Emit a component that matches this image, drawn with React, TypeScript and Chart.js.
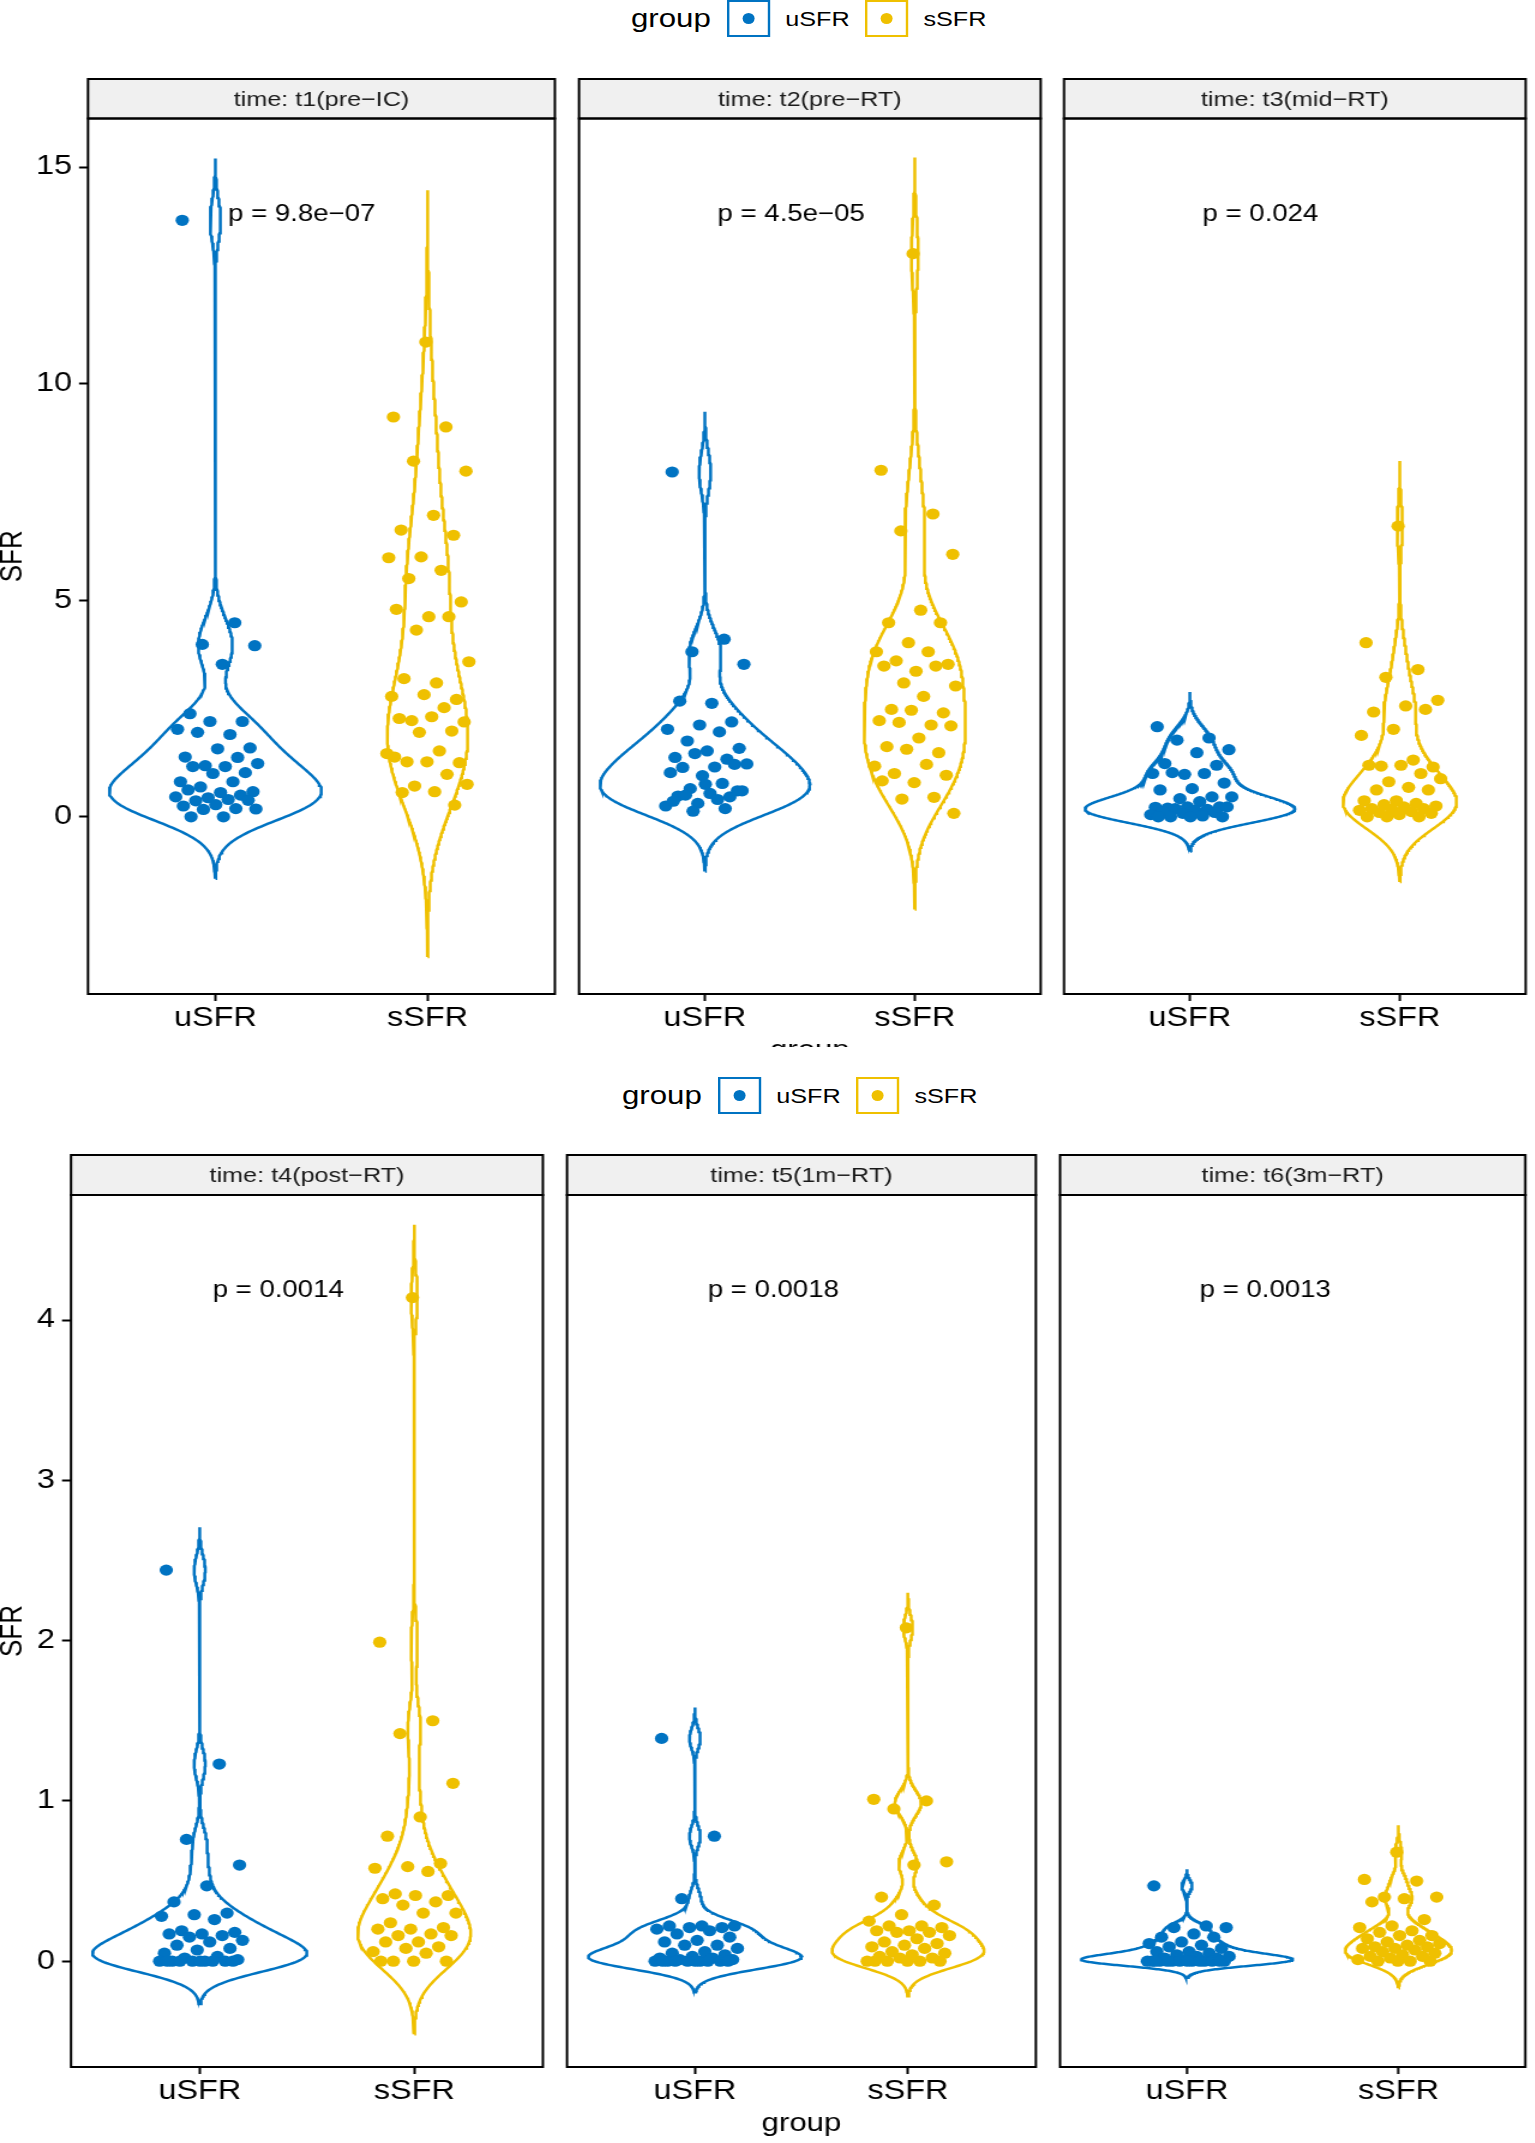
import { useEffect, useRef } from 'react'
import { Chart, registerables } from 'chart.js'

Chart.register(...registerables)

const FONT = '"Liberation Sans", Arial, Helvetica, sans-serif'
Chart.defaults.font.family = FONT
Chart.defaults.color = '#000'

// ---- data ----
const GROUPS = ['uSFR', 'sSFR']
const COLORS = ['#0073C2', '#EFC000']
const TIMES = [
  'time: t1(pre−IC)',
  'time: t2(pre−RT)',
  'time: t3(mid−RT)',
  'time: t4(post−RT)',
  'time: t5(1m−RT)',
  'time: t6(3m−RT)'
]
const P_VALUES = ['p = 9.8e−07', 'p = 4.5e−05', 'p = 0.024', 'p = 0.0014', 'p = 0.0018', 'p = 0.0013']
const TOP_TICKS = [0, 5, 10, 15]
const BOTTOM_TICKS = [0, 1, 2, 3, 4]

const T1_U = [13.77, 4.48, 3.98, 3.95, 3.52, 2.38, 2.2, 2.2, 2.02, 1.9, 1.95, 1.59, 1.57, 1.38, 1.37, 1.18, 1.23, 1.16, 1.16, 1.02, 1.0, 0.81, 0.81, 0.69, 0.58, 0.56, 0.62, 0.5, 0.44, 0.46, 0.4, 0.37, 0.38, 0.28, 0.25, 0.19, 0.17, 0.18, 0.0, 0.0]
const T1_S = [10.96, 9.23, 9.0, 8.21, 7.98, 6.96, 6.62, 6.5, 6.0, 5.98, 5.69, 5.5, 4.96, 4.62, 4.79, 4.62, 4.31, 3.58, 3.09, 3.19, 2.71, 2.82, 2.78, 2.52, 2.22, 2.19, 2.31, 2.27, 1.98, 1.95, 1.46, 1.52, 1.27, 1.25, 1.27, 1.38, 0.98, 0.71, 0.75, 0.58, 0.56, 0.27]
const T2_U = [7.96, 4.1, 3.81, 3.52, 2.62, 2.67, 2.19, 2.12, 2.02, 1.96, 1.75, 1.58, 1.52, 1.37, 1.33, 1.46, 1.22, 1.15, 1.14, 1.21, 0.95, 1.02, 0.77, 0.65, 0.6, 0.54, 0.48, 0.46, 0.31, 0.25, 0.4, 0.5, 0.6, 0.75, 0.36, 0.19, 0.13]
const T2_S = [13.0, 8.0, 6.99, 6.6, 6.06, 4.77, 4.48, 4.48, 4.02, 3.81, 3.81, 3.6, 3.52, 3.36, 3.48, 3.48, 3.09, 3.02, 2.78, 2.48, 2.4, 2.46, 2.22, 2.12, 2.18, 2.1, 1.82, 1.62, 1.48, 1.56, 1.17, 1.21, 1.0, 0.96, 0.79, 0.83, 0.45, 0.41, 0.08]
const T3_U = [2.08, 1.82, 1.77, 1.55, 1.48, 1.23, 1.19, 0.98, 1.0, 1.0, 1.02, 0.78, 0.65, 0.62, 0.46, 0.42, 0.46, 0.35, 0.2, 0.23, 0.23, 0.22, 0.17, 0.19, 0.23, 0.15, 0.12, 0.1, 0.08, 0.05, 0.02, 0.0, 0.0, 0.0, 0.0]
const T3_S = [6.71, 4.02, 3.4, 3.22, 2.69, 2.56, 2.42, 2.48, 2.02, 1.88, 1.31, 1.17, 1.15, 1.19, 1.19, 1.0, 0.81, 0.88, 0.68, 0.62, 0.62, 0.37, 0.37, 0.31, 0.28, 0.25, 0.23, 0.19, 0.19, 0.17, 0.15, 0.12, 0.1, 0.08, 0.05, 0.0, 0.0, 0.0]
const T4_U = [2.44, 1.23, 0.76, 0.6, 0.47, 0.37, 0.3, 0.29, 0.28, 0.26, 0.19, 0.18, 0.17, 0.17, 0.16, 0.15, 0.13, 0.12, 0.1, 0.08, 0.07, 0.05, 0.03, 0.02, 0.01, 0.0, 0.0, 0.0, 0.0, 0.0, 0.0, 0.0, 0.0, 0.0, 0.0]
const T4_S = [4.14, 1.99, 1.5, 1.42, 1.11, 0.9, 0.78, 0.61, 0.59, 0.58, 0.56, 0.42, 0.41, 0.41, 0.39, 0.37, 0.35, 0.3, 0.3, 0.24, 0.21, 0.2, 0.2, 0.17, 0.16, 0.16, 0.12, 0.12, 0.09, 0.08, 0.06, 0.05, 0.0, 0.0, 0.0, 0.0]
const T5_U = [1.39, 0.78, 0.39, 0.22, 0.22, 0.22, 0.21, 0.21, 0.2, 0.19, 0.17, 0.15, 0.13, 0.12, 0.1, 0.1, 0.08, 0.06, 0.05, 0.04, 0.03, 0.02, 0.02, 0.01, 0.01, 0.0, 0.0, 0.0, 0.0, 0.0, 0.0, 0.0, 0.0, 0.0, 0.0]
const T5_S = [2.08, 1.01, 1.0, 0.95, 0.62, 0.6, 0.4, 0.35, 0.29, 0.25, 0.22, 0.22, 0.21, 0.19, 0.19, 0.18, 0.18, 0.16, 0.14, 0.12, 0.11, 0.1, 0.09, 0.08, 0.06, 0.05, 0.04, 0.03, 0.02, 0.02, 0.0, 0.0, 0.0, 0.0, 0.0, 0.0]
const T6_U = [0.47, 0.22, 0.21, 0.21, 0.17, 0.15, 0.15, 0.12, 0.11, 0.1, 0.09, 0.08, 0.06, 0.06, 0.05, 0.04, 0.03, 0.03, 0.02, 0.02, 0.01, 0.0, 0.0, 0.0, 0.0, 0.0, 0.0, 0.0, 0.0, 0.0, 0.0, 0.0, 0.0, 0.0, 0.0]
const T6_S = [0.68, 0.51, 0.5, 0.4, 0.4, 0.39, 0.37, 0.26, 0.22, 0.21, 0.19, 0.18, 0.16, 0.16, 0.14, 0.13, 0.12, 0.11, 0.1, 0.09, 0.09, 0.08, 0.08, 0.07, 0.06, 0.05, 0.04, 0.03, 0.03, 0.02, 0.01, 0.0, 0.0, 0.0, 0.0]

const USFR = [T1_U, T2_U, T3_U, T4_U, T5_U, T6_U]
const SSFR = [T1_S, T2_S, T3_S, T4_S, T5_S, T6_S]

// ---- layout (page pixels) ----
const SX = 1.2 // the source figure is stretched horizontally
const AXIS_H = 72
const PAD = 4

type PanelSpec = {
  index: number
  left: number
  right: number
  stripTop: number
  top: number
  bottom: number
  first: boolean
  middle: boolean
  yMin: number
  yMax: number
  ticks: number[]
}

const ROWS = [
  { stripTop: 79, top: 118.5, bottom: 994, yMin: -4.09, yMax: 16.12, ticks: TOP_TICKS, xs: [[88, 557.5], [574.5, 1043], [1060, 1528]] },
  { stripTop: 1155, top: 1195, bottom: 2067, yMin: -0.66, yMax: 4.78, ticks: BOTTOM_TICKS, xs: [[71, 546], [563, 1038.5], [1056, 1528]] }
]

const PANELS: PanelSpec[] = ROWS.flatMap((row, r) =>
  row.xs.map(([left, right], c) => ({
    index: r * 3 + c,
    left,
    right,
    stripTop: row.stripTop,
    top: row.top,
    bottom: row.bottom,
    first: c === 0,
    middle: c === 1,
    yMin: row.yMin,
    yMax: row.yMax,
    ticks: row.ticks
  }))
)

// ---- violin density (gaussian kernel, bw.nrd0, untrimmed like ggplot) ----
function quantile(sorted: number[], p: number) {
  const h = (sorted.length - 1) * p
  const lo = Math.floor(h)
  const hi = Math.min(lo + 1, sorted.length - 1)
  return sorted[lo] + (h - lo) * (sorted[hi] - sorted[lo])
}

function bwNrd0(v: number[]) {
  const n = v.length
  const mean = v.reduce((a, b) => a + b, 0) / n
  const sd = Math.sqrt(v.reduce((a, b) => a + (b - mean) ** 2, 0) / (n - 1))
  const s = [...v].sort((a, b) => a - b)
  let lo = Math.min(sd, (quantile(s, 0.75) - quantile(s, 0.25)) / 1.34)
  if (!lo) lo = sd || Math.abs(s[0]) || 1
  return 0.9 * lo * Math.pow(n, -0.2)
}

function density(v: number[]) {
  const bw = bwNrd0(v)
  const from = Math.min(...v) - 3 * bw
  const to = Math.max(...v) + 3 * bw
  const ys: number[] = []
  const ds: number[] = []
  for (let i = 0; i < 512; i++) {
    const y = from + ((to - from) * i) / 511
    let d = 0
    for (const x of v) {
      const z = (y - x) / bw
      d += Math.exp(-0.5 * z * z)
    }
    ys.push(y)
    ds.push(d / (v.length * bw * Math.sqrt(2 * Math.PI)))
  }
  return { ys, ds }
}

function violin(center: number, dens: { ys: number[]; ds: number[] }, maxD: number) {
  const right = dens.ys.map((y, i) => ({ x: center + (0.5 * dens.ds[i]) / maxD, y }))
  const left = dens.ys.map((y, i) => ({ x: center - (0.5 * dens.ds[i]) / maxD, y })).reverse()
  return [...right, ...left, right[0]]
}

// deterministic horizontal jitter (width 0.2)
const jitter = (i: number, g: number) => 0.2 * (2 * ((i * 0.6180339887 + g * 0.37 + 0.11) % 1) - 1)

const facetPlugin = {
  id: 'facet',
  afterDraw(chart: any, _args: any, opts: any) {
    const { ctx, chartArea: a } = chart
    ctx.save()
    ctx.fillStyle = '#F0F0F0'
    ctx.fillRect(a.left, opts.stripTop, a.right - a.left, a.top - opts.stripTop)
    ctx.lineWidth = 2
    ctx.strokeStyle = '#000'
    ctx.strokeRect(a.left, opts.stripTop, a.right - a.left, a.top - opts.stripTop)
    ctx.strokeRect(a.left, a.top, a.right - a.left, a.bottom - a.top)
    ctx.fillStyle = '#1A1A1A'
    ctx.font = `21px ${FONT}`
    ctx.textAlign = 'center'
    ctx.textBaseline = 'middle'
    ctx.fillText(opts.strip, (a.left + a.right) / 2, (opts.stripTop + a.top) / 2 + 1)
    ctx.fillStyle = '#000'
    ctx.font = `23px ${FONT}`
    ctx.textAlign = 'left'
    ctx.fillText(opts.label, chart.scales.x.getPixelForValue(1.06), a.top + 0.11 * (a.bottom - a.top))
    ctx.restore()
  }
}

function Panel({ p }: { p: PanelSpec }) {
  const chartContainer = useRef<HTMLCanvasElement>(null)

  const canvasLeft = p.first ? 0 : p.left - PAD
  const canvasTop = p.stripTop - 3
  const w = Math.round((p.right + PAD - canvasLeft) / SX)
  const h = Math.round(p.bottom + AXIS_H - canvasTop)

  useEffect(() => {
    if (!chartContainer.current) return
    const u = USFR[p.index]
    const s = SSFR[p.index]
    const du = density(u)
    const ds = density(s)
    const maxD = Math.max(...du.ds, ...ds.ds)
    const leftL = (p.left - canvasLeft) / SX
    const rightL = (p.right - canvasLeft) / SX

    const chart = new Chart(chartContainer.current, {
      type: 'scatter',
      data: {
        datasets: [
          ...[u, s].map((vals, g) => ({
            label: GROUPS[g] + ' points',
            data: vals.map((v, i) => ({ x: g + 1 + jitter(i, g), y: v })),
            pointRadius: 5.6,
            pointBackgroundColor: COLORS[g],
            pointBorderWidth: 0,
            backgroundColor: COLORS[g],
            borderColor: COLORS[g],
            order: 1
          })),
          ...[du, ds].map((d, g) => ({
            label: GROUPS[g] + ' violin',
            data: violin(g + 1, d, maxD),
            showLine: true,
            pointRadius: 0,
            borderColor: COLORS[g],
            borderWidth: 2.5,
            fill: false,
            tension: 0,
            order: 2
          }))
        ]
      },
      options: {
        animation: false,
        responsive: false,
        events: [],
        layout: {
          padding: {
            left: p.first ? 0 : leftL,
            right: w - rightL,
            top: p.top - canvasTop,
            bottom: 0
          }
        },
        plugins: {
          legend: { display: false },
          tooltip: { enabled: false },
          facet: { strip: TIMES[p.index], label: P_VALUES[p.index], stripTop: 3 }
        } as any,
        scales: {
          x: {
            type: 'linear',
            min: 0.4,
            max: 2.6,
            afterBuildTicks: (sc: any) => {
              sc.ticks = GROUPS.map((_, i) => ({ value: i + 1 }))
            },
            afterFit: (sc: any) => {
              sc.height = AXIS_H
            },
            ticks: {
              callback: (v: any) => GROUPS[Math.round(Number(v)) - 1],
              font: { size: 27 },
              color: '#000',
              padding: 1,
              maxRotation: 0,
              autoSkip: false
            },
            grid: {
              drawOnChartArea: false,
              drawTicks: true,
              tickLength: 7,
              tickColor: '#000',
              tickWidth: 2
            },
            border: { display: false },
            title: {
              display: p.middle,
              text: 'group',
              font: { size: 26 },
              color: '#000',
              padding: 0
            }
          },
          y: {
            type: 'linear',
            display: p.first,
            min: p.yMin,
            max: p.yMax,
            afterBuildTicks: (sc: any) => {
              sc.ticks = p.ticks.map((v) => ({ value: v }))
            },
            afterFit: (sc: any) => {
              sc.width = leftL
            },
            ticks: {
              font: { size: 27 },
              color: '#000',
              padding: 7 / SX,
              autoSkip: false
            },
            grid: {
              drawOnChartArea: false,
              drawTicks: true,
              tickLength: 9 / SX,
              tickColor: '#000',
              tickWidth: 2
            },
            border: { display: false },
            title: {
              display: true,
              text: 'SFR',
              font: { size: 26, lineHeight: 0.86 },
              color: '#000',
              padding: 0
            }
          }
        }
      },
      plugins: [facetPlugin]
    } as any)

    return () => {
      chart.destroy()
    }
  }, [p])

  return (
    <div
      style={{
        position: 'absolute',
        left: canvasLeft,
        top: canvasTop,
        width: w,
        height: h,
        transform: `scaleX(${SX})`,
        transformOrigin: '0 0'
      }}
    >
      <canvas ref={chartContainer} width={w} height={h} style={{ width: w, height: h, display: 'block' }}></canvas>
    </div>
  )
}

function Legend({ left, top }: { left: number; top: number }) {
  return (
    <div
      style={{
        position: 'absolute',
        left,
        top,
        height: 40,
        display: 'flex',
        alignItems: 'center',
        transform: `scaleX(${SX})`,
        transformOrigin: '0 0',
        fontFamily: FONT,
        color: '#000',
        whiteSpace: 'nowrap'
      }}
    >
      <span style={{ fontSize: 26, marginRight: 13 }}>group</span>
      {GROUPS.map((g, i) => (
        <div key={g} style={{ display: 'flex', alignItems: 'center' }}>
          <div
            style={{
              width: 36,
              height: 37,
              boxSizing: 'border-box',
              border: `2.5px solid ${COLORS[i]}`,
              display: 'flex',
              alignItems: 'center',
              justifyContent: 'center'
            }}
          >
            <div style={{ width: 10, height: 11, borderRadius: '50%', background: COLORS[i] }} />
          </div>
          <span style={{ fontSize: 21, marginLeft: 13, marginRight: i === 0 ? 12.5 : 0 }}>{g}</span>
        </div>
      ))}
    </div>
  )
}

export default function App() {
  return (
    <div style={{ position: 'absolute', left: 0, top: 0, width: 1535, height: 2143, background: '#fff', overflow: 'hidden' }}>
      <div style={{ position: 'absolute', left: 0, top: 0, width: 1535, height: 1047, overflow: 'hidden' }}>
        <Legend left={631} top={-1.5} />
        {PANELS.slice(0, 3).map((p) => (
          <Panel key={p.index} p={p} />
        ))}
      </div>
      <Legend left={622} top={1075.5} />
      {PANELS.slice(3).map((p) => (
        <Panel key={p.index} p={p} />
      ))}
    </div>
  )
}
